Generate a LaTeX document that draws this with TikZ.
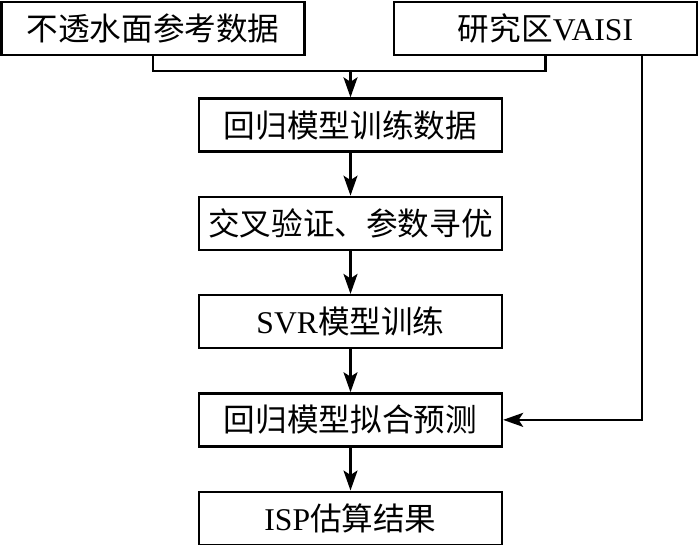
\documentclass[tikz,border=0pt]{standalone}
\usepackage{fontspec}
\setmainfont{Liberation Serif}
\newfontfamily\cjk{Noto Sans CJK SC}
\usepackage{tikz}
\usetikzlibrary{arrows.meta,positioning,calc}
\tikzset{
  isbox/.style={draw=black, line width=1.3pt, fill=white, align=center,
    minimum width=6.06cm, minimum height=1.06cm, inner sep=0pt},
  isline/.style={line width=1.3pt, draw=black},
  isarrow/.style={-{Stealth[length=4mm,width=2.8mm,inset=0.9mm]}, line width=1.3pt, draw=black}
}

\begin{document}
\begin{tikzpicture}[font=\fontsize{18}{20}\selectfont, node distance=0.86cm]
\useasboundingbox (0,0) rectangle (14,-10.88);
\node[isbox] (refdata) at (3.06,-0.57) {{\cjk 不透水面参考数据}};
\node[isbox] (vaisi) at (10.91,-0.57) {{\cjk 研究区}VAISI};
\node[isbox] (traindata) at (7.01,-2.5) {{\cjk 回归模型训练数据}};
\node[isbox, below=of traindata] (cv) {{\cjk 交叉验证、参数寻优}};
\node[isbox, below=of cv] (svr) {SVR{\cjk 模型训练}};
\node[isbox, below=of svr] (predict) {{\cjk 回归模型拟合预测}};
\node[isbox, below=of predict] (isp) {ISP{\cjk 估算结果}};
\path (refdata.south) ++(0,-0.3) coordinate (bend);
\draw[isline] (refdata.south) -- (bend) -| (vaisi.south);
\draw[isarrow] (bend -| traindata.north) -- (traindata.north);
\draw[isarrow] (traindata) -- (cv);
\draw[isarrow] (cv) -- (svr);
\draw[isarrow] (svr) -- (predict);
\draw[isarrow] (predict) -- (isp);
\draw[isarrow] ([xshift=1.93cm]vaisi.south) |- (predict.east);
\end{tikzpicture}
\end{document}
